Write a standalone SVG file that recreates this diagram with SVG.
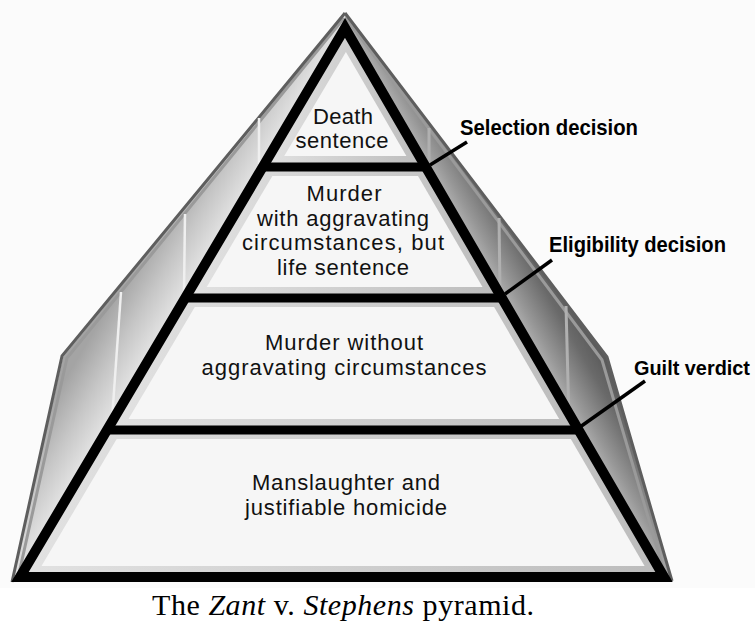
<svg xmlns="http://www.w3.org/2000/svg" width="755" height="626" viewBox="0 0 755 626">
<defs>
<linearGradient id="gLeft" gradientUnits="userSpaceOnUse" x1="345" y1="28" x2="293" y2="-3">
<stop offset="0" stop-color="#e4e4e4"/><stop offset="0.5" stop-color="#c6c6c6"/><stop offset="1" stop-color="#a4a4a4"/>
</linearGradient>
<linearGradient id="gRight" gradientUnits="userSpaceOnUse" x1="345" y1="28" x2="397" y2="-2">
<stop offset="0" stop-color="#b4b4b4"/><stop offset="0.25" stop-color="#979797"/><stop offset="0.7" stop-color="#6a6a6a"/><stop offset="1" stop-color="#5a5a5a"/>
</linearGradient>
<linearGradient id="gBevel" x1="0" y1="0" x2="1" y2="0">
<stop offset="0" stop-color="#e2e2e2"/><stop offset="1" stop-color="#bcbcbc"/>
</linearGradient>
<style>
.bevel{fill:url(#gBevel)}
.face{fill:#f6f6f6}
.div{stroke:#000;stroke-width:9;fill:none}
.lvl{font-family:"Liberation Sans",Arial,sans-serif;font-size:22px;fill:#111;text-anchor:middle}
.dec{font-family:"Liberation Sans",Arial,sans-serif;font-weight:bold;font-size:22px;fill:#000}
.lead{stroke:#000;stroke-width:3.5;fill:none}
.ribL{stroke:#efefef;stroke-width:2.5}
.ribR{stroke:#b0b0b0;stroke-width:3}
.edge{fill:none;stroke:#5e5e5e;stroke-width:3;stroke-linejoin:round}
.edge2{fill:none;stroke:#9a9a9a;stroke-width:3;stroke-linejoin:round}
</style>
</defs>
<rect width="755" height="626" fill="#fbfbfb"/>
<rect x="0" y="588" width="755" height="38" fill="#ffffff"/>

<g id="sides">
<polygon points="345,13 63,357 12,582 20,577 345,28" fill="url(#gLeft)"/>
<polygon points="345,13 607,358 672,580 664,577 345,28" fill="url(#gRight)"/>
<polyline class="edge2" points="344,18 67,358 18,578"/>
<polyline class="edge" points="345,13 62,356 12,582"/>
<polyline class="edge2" points="346,18 602,360 665,575"/>
<polyline class="edge" points="345,13 607,357 672,581"/>
<line class="ribL" x1="259" y1="118" x2="259" y2="164"/>
<line class="ribL" x1="185" y1="214" x2="184" y2="294"/>
<line class="ribL" x1="121" y1="292" x2="112" y2="420"/>
<line class="ribR" x1="429" y1="128" x2="429" y2="163"/>
<line class="ribR" x1="499" y1="218" x2="500" y2="292"/>
<line class="ribR" x1="566" y1="306" x2="569" y2="422"/>
</g>

<g id="level-death">
<polygon class="bevel" points="345,28 262.7,167 425.8,167"/>
<polygon class="face" points="345.9,52 284.2,156 406.4,156"/>
<text class="lvl" x="343" y="124" textLength="60" lengthAdjust="spacing">Death</text>
<text class="lvl" x="342" y="148" textLength="93" lengthAdjust="spacing">sentence</text>
</g>

<g id="level-aggravated">
<polygon class="bevel" points="262.7,167 425.8,167 501.9,298 185.2,298"/>
<polygon class="face" points="272.4,176 418,176 482.5,287 206.7,287"/>
<text class="lvl" x="344" y="201" textLength="75" lengthAdjust="spacing">Murder</text>
<text class="lvl" x="343" y="226" textLength="172" lengthAdjust="spacing">with aggravating</text>
<text class="lvl" x="343" y="250" textLength="202" lengthAdjust="spacing">circumstances, but</text>
<text class="lvl" x="343" y="275" textLength="132" lengthAdjust="spacing">life sentence</text>
</g>

<g id="level-murder">
<polygon class="bevel" points="185.2,298 501.9,298 578.6,430 107,430"/>
<polygon class="face" points="194.8,307 494.1,307 559.2,419 128.5,419"/>
<text class="lvl" x="344" y="350" textLength="158" lengthAdjust="spacing">Murder without</text>
<text class="lvl" x="344" y="375" textLength="285" lengthAdjust="spacing">aggravating circumstances</text>
</g>

<g id="level-manslaughter">
<polygon class="bevel" points="107,430 578.6,430 664,577 20,577"/>
<polygon class="face" points="116.7,439 570.8,439 644.6,566 41.5,566"/>
<text class="lvl" x="346" y="490" textLength="188" lengthAdjust="spacing">Manslaughter and</text>
<text class="lvl" x="346" y="515" textLength="202" lengthAdjust="spacing">justifiable homicide</text>
</g>

<g id="outline">
<polygon points="345,28 20,577 664,577" fill="none" stroke="#000" stroke-width="10" stroke-linejoin="miter"/>
<line class="div" x1="262.7" y1="167" x2="427" y2="167"/>
<line class="div" x1="185.2" y1="298" x2="503" y2="298"/>
<line class="div" x1="107" y1="430" x2="580" y2="430"/>
</g>

<g id="connectors">
<line class="lead" x1="430" y1="165" x2="467" y2="142"/>
<line class="lead" x1="505" y1="294" x2="552" y2="260"/>
<line class="lead" x1="580" y1="427" x2="645" y2="381"/>
</g>

<g id="selection-decision">
<text class="dec" x="460" y="135" textLength="178" lengthAdjust="spacingAndGlyphs">Selection decision</text>
</g>
<g id="eligibility-decision">
<text class="dec" x="549" y="252" textLength="177" lengthAdjust="spacingAndGlyphs">Eligibility decision</text>
</g>
<g id="guilt-verdict">
<text class="dec" x="634" y="375" font-size="20" style="font-size:20px" textLength="116" lengthAdjust="spacingAndGlyphs">Guilt verdict</text>
</g>

<g id="caption">
<text x="152" y="615" font-family="'Liberation Serif','Times New Roman',serif" font-size="30" fill="#000" textLength="382" lengthAdjust="spacing">The <tspan font-style="italic">Zant</tspan> v. <tspan font-style="italic">Stephens</tspan> pyramid.</text>
</g>
</svg>
